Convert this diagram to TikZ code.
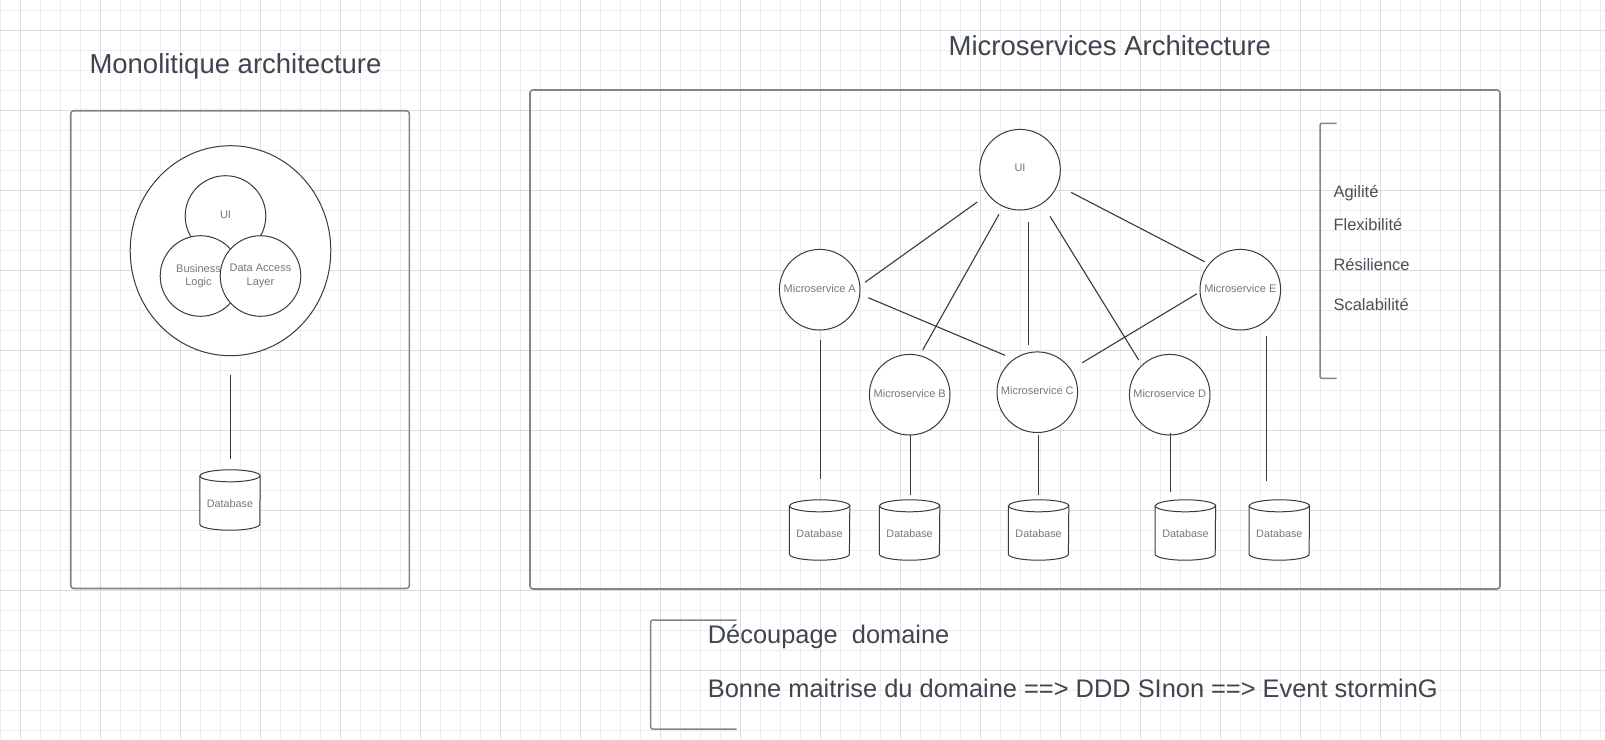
\documentclass[tikz,border=0pt]{standalone}
\usepackage{fontspec}
\setmainfont{Liberation Sans}
\usetikzlibrary{shapes.geometric}
\definecolor{gridminor}{HTML}{EDEDED}
\definecolor{gridmajor}{HTML}{DCDCDC}
\definecolor{framec}{HTML}{858585}
\definecolor{strokec}{HTML}{3A3A3A}
\definecolor{titlec}{HTML}{3E4550}
\definecolor{labelc}{HTML}{75787D}
\definecolor{listc}{HTML}{4A5059}
\newcommand\dbcyl[1]{%
  \draw[dbline,fill=white] ([yshift=-6pt]#1.north west) -- ([yshift=6pt]#1.south west)
    arc[start angle=180,end angle=360,x radius=30pt,y radius=6pt]
    -- ([yshift=-6pt]#1.north east)
    arc[start angle=0,end angle=180,x radius=30pt,y radius=6pt] -- cycle;
  \draw[dbline] ([yshift=-6pt]#1.north west)
    arc[start angle=180,end angle=360,x radius=30pt,y radius=6pt];}
\begin{document}
\begin{tikzpicture}[x=1pt,y=-1pt,
  gminor/.style={draw=gridminor,line width=1pt},
  gmajor/.style={draw=gridmajor,line width=1pt},
  framebox/.style={draw=framec,line width=1.6pt,rounded corners=3pt,rectangle,inner sep=0pt},
  circ/.style={circle,draw=strokec,line width=1pt,fill=white,minimum size=80.6pt,inner sep=0pt},
  lbl/.style={text=labelc,font=\fontsize{11}{13.3}\selectfont,align=center,inner sep=0pt},
  dblbl/.style={lbl,font=\fontsize{10.8}{13}\selectfont},
  ttl/.style={text=titlec,font=\fontsize{27.5}{33}\selectfont,anchor=base west,inner sep=0pt},
  notetxt/.style={text=titlec,font=\fontsize{25.4}{30}\selectfont,anchor=base west,inner sep=0pt},
  itemtxt/.style={text=listc,font=\fontsize{16.5}{20}\selectfont,anchor=base west,inner sep=0pt},
  link/.style={draw=strokec,line width=1.1pt},
  dbbox/.style={rectangle,minimum width=60pt,minimum height=60pt,inner sep=0pt},
  dbline/.style={draw=strokec,line width=1pt},
  bracketline/.style={draw=framec,line width=1.5pt,rounded corners=2pt}]
\useasboundingbox (0,0) rectangle (1605,739);
\fill[white] (0,0) rectangle (1605,739);
% grid
\foreach \x in {0,20,...,1600} \draw[gminor] (\x+0.5,0) -- (\x+0.5,739);
\foreach \y in {10,30,...,730} \draw[gminor] (0,\y+0.5) -- (1605,\y+0.5);
\foreach \x in {20,100,...,1580} \draw[gmajor] (\x+0.5,0) -- (\x+0.5,739);
\foreach \y in {30,110,...,670} \draw[gmajor] (0,\y+0.5) -- (1605,\y+0.5);

% titles
\node[ttl] (t1) at (89.3,73.3) {Monolitique architecture};
\node[ttl] (t2) at (948.4,55.7) {Microservices Architecture};

% frames
\node[framebox,minimum width=338.6pt,minimum height=477.8pt] (monoframe) at (240,349.6) {};
\node[framebox,minimum width=970pt,minimum height=499pt] (microframe) at (1015,339.5) {};

% monolith
\node[ellipse,draw=strokec,line width=1pt,fill=white,minimum width=200.6pt,minimum height=210pt,inner sep=0pt] (mono) at (230.5,250.7) {};
\node[circ] (lui) at (225.5,216) {};
\node[circ] (lbl1) at (200.5,276) {};
\node[circ] (ldal) at (260.5,276) {};
\node[lbl] (luit) at ([yshift=1.5pt]lui.center) {UI};
\node[lbl] (lblt) at ([xshift=-2pt]lbl1.center) {Business\\Logic};
\node[lbl] (ldalt) at (ldal) {Data Access\\Layer};
\node[dbbox] (ldb) at (230,500) {};
\dbcyl{ldb}
\node[dblbl] (ldbt) at ([yshift=-4pt]ldb.center) {Database};
\coordinate (m1) at (230.3,375);
\coordinate (m2) at (230.3,459.3);
\draw[link] (m1) -- (m2);

% microservices
\node[circ] (ui) at (1020,169.7) {};
\node[circ] (ma) at (819.7,289.7) {};
\node[circ] (mb) at (909.7,394.7) {};
\node[circ] (mc) at (1037.3,392.2) {};
\node[circ] (md) at (1169.7,394.7) {};
\node[circ] (me) at (1240.3,289.7) {};
\node[lbl] (uit) at ([yshift=1.5pt]ui.center) {UI};
\node[lbl] (mat) at ([yshift=1.5pt]ma.center) {Microservice A};
\node[lbl] (mbt) at ([yshift=1.5pt]mb.center) {Microservice B};
\node[lbl] (mct) at ([yshift=1.5pt]mc.center) {Microservice C};
\node[lbl] (mdt) at ([yshift=1.5pt]md.center) {Microservice D};
\node[lbl] (met) at ([yshift=1.5pt]me.center) {Microservice E};

\coordinate (c1a) at (977.3,202);   \coordinate (c1b) at (865,282.3);
\coordinate (c2a) at (999,214.3);   \coordinate (c2b) at (922.7,350);
\coordinate (c3a) at (1028.3,221.7);\coordinate (c3b) at (1028.3,345.3);
\coordinate (c4a) at (1050,216.3);  \coordinate (c4b) at (1138.7,360);
\coordinate (c5a) at (1071,192.3);  \coordinate (c5b) at (1204.7,261.7);
\coordinate (c6a) at (868.3,297.7); \coordinate (c6b) at (1005,355.3);
\coordinate (c7a) at (1197,293.7);  \coordinate (c7b) at (1082.3,362.7);
\draw[link] (c1a) -- (c1b);
\draw[link] (c2a) -- (c2b);
\draw[link] (c3a) -- (c3b);
\draw[link] (c4a) -- (c4b);
\draw[link] (c5a) -- (c5b);
\draw[link] (c6a) -- (c6b);
\draw[link] (c7a) -- (c7b);

% databases
\node[dbbox] (db1) at (819.6,530) {};
\node[dbbox] (db2) at (909.6,530) {};
\node[dbbox] (db3) at (1038.6,530) {};
\node[dbbox] (db4) at (1185.4,530) {};
\node[dbbox] (db5) at (1279.3,530) {};
\dbcyl{db1}\dbcyl{db2}\dbcyl{db3}\dbcyl{db4}\dbcyl{db5}
\node[dblbl] (db1t) at ([yshift=-4pt]db1.center) {Database};
\node[dblbl] (db2t) at ([yshift=-4pt]db2.center) {Database};
\node[dblbl] (db3t) at ([yshift=-4pt]db3.center) {Database};
\node[dblbl] (db4t) at ([yshift=-4pt]db4.center) {Database};
\node[dblbl] (db5t) at ([yshift=-4pt]db5.center) {Database};

\coordinate (va1) at (820.4,340);   \coordinate (va2) at (820.4,479);
\coordinate (vb1) at (910.4,435);   \coordinate (vb2) at (910.4,495);
\coordinate (vc1) at (1038.6,435);  \coordinate (vc2) at (1038.6,495);
\coordinate (vd1) at (1170.4,432.7);\coordinate (vd2) at (1170.4,492.3);
\coordinate (ve1) at (1266.4,336);  \coordinate (ve2) at (1266.4,481);
\draw[link] (va1) -- (va2);
\draw[link] (vb1) -- (vb2);
\draw[link] (vc1) -- (vc2);
\draw[link] (vd1) -- (vd2);
\draw[link] (ve1) -- (ve2);

% right bracket and list
\draw[bracketline] (1336.7,123.3) -- (1320,123.3) -- (1320,378.3) -- (1336.7,378.3);
\node[itemtxt] (i1) at (1333.3,197.3) {Agilité};
\node[itemtxt] (i2) at (1333.3,230.7) {Flexibilité};
\node[itemtxt] (i3) at (1333.3,270.7) {Résilience};
\node[itemtxt] (i4) at (1333.3,310.7) {Scalabilité};

% bottom bracket and notes
\draw[bracketline] (736.7,620) -- (650.7,620) -- (650.7,729) -- (736.7,729);
\node[notetxt] (n1) at (707.7,643.3) {Découpage~ domaine};
\node[notetxt] (n2) at (707.7,697.3) {Bonne maitrise du domaine ==> DDD SInon ==> Event storminG};
\end{tikzpicture}
\end{document}
